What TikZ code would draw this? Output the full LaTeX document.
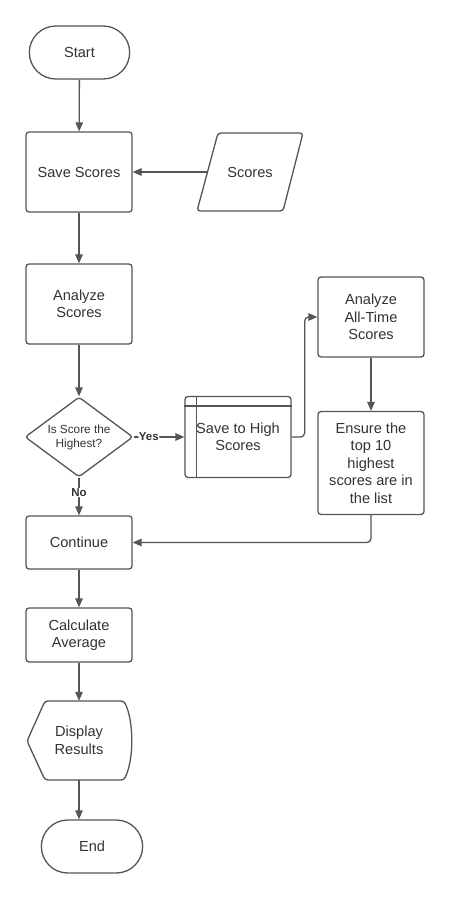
\documentclass[tikz,border=0pt]{standalone}
\usepackage{fontspec}
\setmainfont{Liberation Sans}
\usetikzlibrary{arrows.meta,shapes.geometric,shapes.misc}
\definecolor{linegray}{HTML}{555555}
\definecolor{textgray}{HTML}{333333}
\begin{document}
\begin{tikzpicture}[x=1pt, y=-1pt, >={Triangle[length=9pt,width=7.5pt]},
    every node/.style={text=textgray, font=\fontsize{14.6}{17.5}\selectfont, align=center},
    line/.style={draw=linegray, line width=1.3pt},
    terminal/.style={line, rounded rectangle, minimum width=107pt, minimum height=53pt},
    process/.style={line, rectangle, rounded corners=3pt, minimum width=106pt, minimum height=80pt, inner sep=2pt},
    decision/.style={line, diamond, aspect=1.35, minimum width=108pt, minimum height=80pt, inner sep=0pt, rounded corners=3pt, font=\fontsize{11.8}{14}\selectfont},
    flow/.style={line, ->, rounded corners=4pt},
    label/.style={font=\bfseries\fontsize{11.5}{14}\selectfont, fill=white, inner sep=0.5pt}]
    % Bounding box of the whole page
    \useasboundingbox[fill=white] (0,0) rectangle (450,900);

    % Main column
    \node[terminal] (start) at (79.5,52.5) {Start};
    \node[process] (save) at (79,172) {Save Scores};
    % Data input: slanted parallelogram
    \node[minimum width=86pt, minimum height=78pt] (scores) at (250,172) {Scores};
    \draw[line, rounded corners=3pt] (218,133) -- (303,133) -- (283,211) -- (197,211) -- cycle;
    \node[process] (analyze) at (79,304) {Analyze\\Scores};
    \node[decision] (highest) at (79,437) {Is Score the\\Highest?};

    % Right branch
    \node[process, minimum height=81pt] (high) at (238,437) {Save to High\\Scores};
    \draw[line] ([xshift=12pt]high.north west) -- ([xshift=12pt]high.south west);
    \draw[line] ([yshift=-10pt]high.north west) -- ([yshift=-10pt]high.north east);
    \node[process] (alltime) at (371,317) {Analyze\\All-Time\\Scores};
    \node[process, minimum height=103pt] (ensure) at (371,463) {Ensure the\\top 10\\highest\\scores are in\\the list};

    % Lower column
    \node[process, minimum height=53pt] (cont) at (79,542.5) {Continue};
    \node[process, minimum height=54pt] (calc) at (79,635) {Calculate\\Average};
    % Display shape: pointed left side, curved right side
    \node[minimum width=106pt, minimum height=79pt] (disp) at (79,740.5) {Display\\Results};
    \draw[line, rounded corners=3pt] (45,701) -- (124,701) .. controls (134,722) and (134,759) .. (124,780)
        -- (45,780) -- (27,741) -- cycle;
    \node[terminal, minimum width=108pt] (end) at (92,846.5) {End};

    % Connectors
    \draw[flow] (start) -- (save);
    \draw[flow] (scores.west) -- (save.east);
    \draw[flow] (save) -- (analyze);
    \draw[flow] (analyze) -- (highest);
    \draw[flow] (highest.east) -- node[label, pos=0.3] {Yes} (high.west);
    \draw[flow] (high.east) -- ++(13,0) |- (alltime.west);
    \draw[flow] (alltime) -- (ensure);
    \draw[flow] (ensure.south) |- (cont.east);
    \draw[flow] (highest.south) -- node[label, pos=0.4] {No} (cont.north);
    \draw[flow] (cont) -- (calc);
    \draw[flow] (calc.south) -- (disp.north);
    \draw[flow] (disp.south) -- (disp.south |- end.north);
\end{tikzpicture}
\end{document}
